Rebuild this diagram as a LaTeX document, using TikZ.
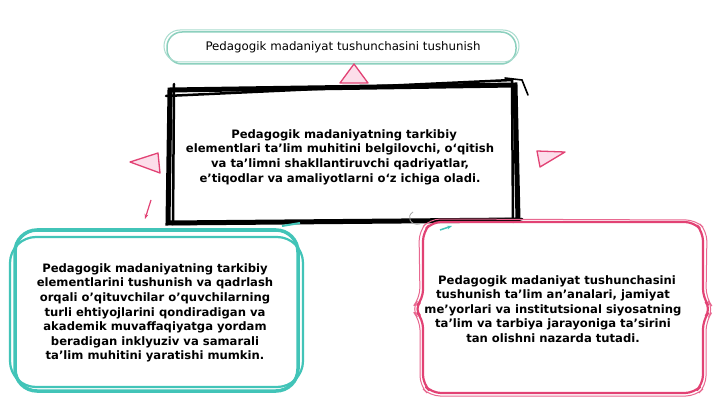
\documentclass[tikz,border=0pt]{standalone}
\usepackage{fontspec}
\setmainfont{DejaVu Sans}
\usetikzlibrary{arrows.meta,calc}
\definecolor{tealc}{RGB}{66,196,184}
\definecolor{pinkc}{RGB}{226,66,116}
\definecolor{topc}{RGB}{140,208,190}
\definecolor{tripink}{RGB}{252,222,234}
\tikzset{
  txt/.style={font=\fontsize{11.8}{15}\selectfont, align=center, inner sep=0pt},
  btxt/.style={font=\bfseries\fontsize{11.6}{14.6}\selectfont, align=center, inner sep=0pt},
  tri/.style={draw=pinkc, fill=tripink, line width=1.3pt, line join=round},
}
\begin{document}
\begin{tikzpicture}[x=1pt,y=-1pt]
\useasboundingbox (0,0) rectangle (720,406);
\fill[white] (0,0) rectangle (720,406);

% top box
\draw[topc, line width=1.5pt, rounded corners=15] (167,32) rectangle (516,64);
\draw[topc!75, line width=1pt, rounded corners=16] (164,30) rectangle (519,62);
\node[txt] (top) at (343,47) {Pedagogik madaniyat tushunchasini tushunish};

% arrowhead under top box
\draw[tri] (354,64) -- (340,83) -- (368,83) -- cycle;

% main box (sketchy black)
\draw[black, line width=5pt, line cap=round] (170,90) -- (515,85) -- (518,220) -- (168,223) -- cycle;
\draw[black, line width=2.5pt, line cap=round] (166,96) -- (512,80) -- (513,222);
\draw[black, line width=2.5pt, line cap=round] (174,84) -- (173,224) -- (522,219);
\draw[black, line width=1.6pt, line cap=round] (505,78) -- (522,80) -- (528,95);
\node[btxt] (main) at (340,157) {\ \ Pedagogik madaniyatning tarkibiy\\elementlari ta’lim muhitini belgilovchi, o‘qitish\\va ta'limni shakllantiruvchi qadriyatlar,\\e’tiqodlar va amaliyotlarni o‘z ichiga oladi.};

% side arrowheads
\draw[tri] (130,162) -- (158,153) -- (160,173) -- cycle;
\draw[tri] (537,151) -- (565,152) -- (540,167) -- cycle;

% small pink arrow
\coordinate (pa) at (151,200);
\coordinate (pb) at (145,219);
\draw[pinkc, line width=1.2pt, -{Stealth[length=5pt]}] (pa) -- (pb);

% left teal box
\draw[tealc, line width=3.5pt, rounded corners=22] (15,230) rectangle (298,391);
\draw[tealc, line width=2.2pt, rounded corners=26] (10,237) rectangle (303,387);
\draw[tealc, line width=2pt] (282,226) -- (300,223);
\node[btxt] (left) at (155,313) {Pedagogik madaniyatning tarkibiy\\elementlarini tushunish va qadrlash\\orqali o'qituvchilar o'quvchilarning\\turli ehtiyojlarini qondiradigan va\\akademik muvaffaqiyatga yordam\\beradigan inklyuziv va samarali\\ta'lim muhitini yaratishi mumkin.};

% right pink box (brace-like sides)
\draw[pinkc, line width=2.2pt, rounded corners=9]
  (432,222) -- (694,222) -- (703,232) -- (703,298) -- (711,309) -- (703,320) -- (703,384) -- (694,393)
  -- (432,393) -- (423,384) -- (423,319) -- (414,309) -- (423,299) -- (423,232) -- cycle;
\draw[pinkc!80, line width=1pt, rounded corners=10]
  (430,219) -- (696,220) -- (707,231) -- (706,298) -- (714,309) -- (706,321) -- (706,386) -- (696,396)
  -- (430,396) -- (420,386) -- (420,320) -- (411,309) -- (420,298) -- (419,231) -- cycle;
\node[btxt] (right) at (553,309) {\ \ Pedagogik madaniyat tushunchasini\\tushunish ta’lim an’analari, jamiyat\\me'yorlari va institutsional siyosatning\\ta’lim va tarbiya jarayoniga ta’sirini\\tan olishni nazarda tutadi.};

% small grey curl and teal tip near right box
\draw[gray!70, line width=0.8pt] (413,212) .. controls (406,216) and (410,226) .. (420,224);
\draw[tealc, line width=1.5pt, -{Stealth[length=5pt]}] (440,230) -- (452,226);
\end{tikzpicture}
\end{document}
